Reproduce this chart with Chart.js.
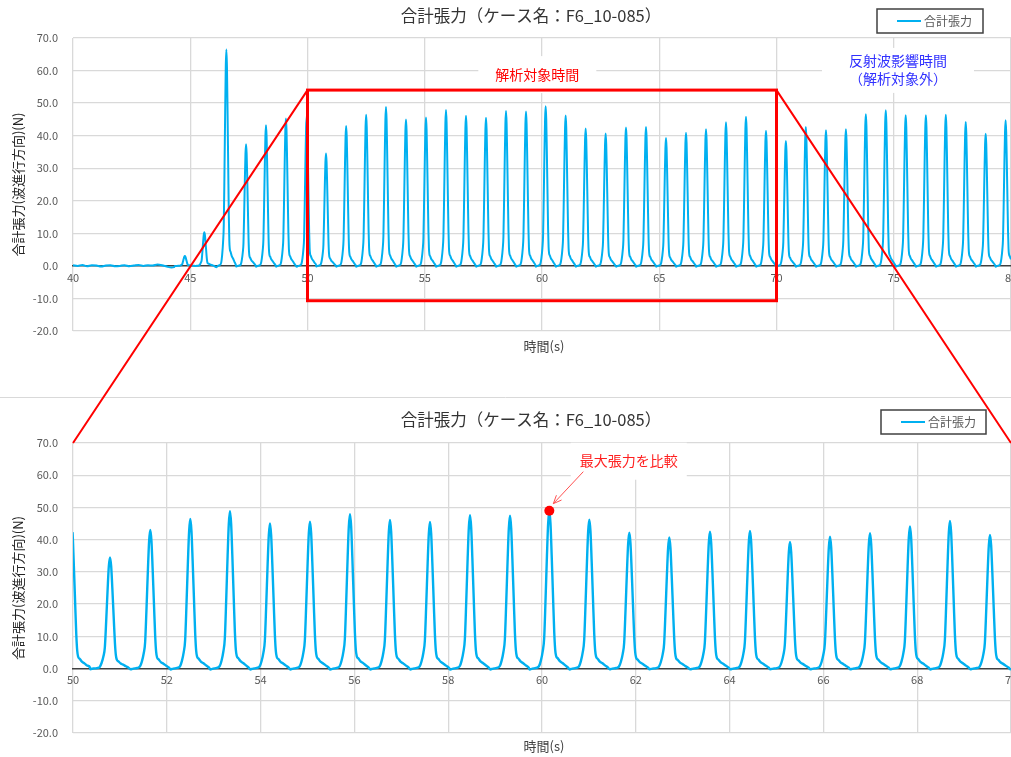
<!DOCTYPE html>
<html><head><meta charset="utf-8">
<script src="https://cdn.jsdelivr.net/npm/chart.js@4.4.1/dist/chart.umd.min.js"></script>
<style>
html,body{margin:0;padding:0;background:#fff;overflow:hidden;}
#wrap{position:relative;width:1011px;height:757px;overflow:hidden;background:#fff;}
#cTop{position:absolute;left:0;top:0;}
#cBot{position:absolute;left:0;top:398px;}
#ov{position:absolute;left:0;top:0;pointer-events:none;}
</style></head><body>
<div id="wrap">
<canvas id="cTop" width="1030" height="396"></canvas>
<canvas id="cBot" width="1030" height="359"></canvas>
<canvas id="ov" width="1011" height="757"></canvas>
</div>
<script>
// ---------------- data ----------------
const seriesName = '合計張力';
const chartTitle = '合計張力（ケース名：F6_10-085）';
const xTitle = '時間(s)';
const yTitle = '合計張力(波進行方向)(N)';

// quiet baseline before the waves arrive
const preTimes  = [40.0,40.2,40.4,40.6,40.8,41.0,41.2,41.4,41.6,41.8,42.0,42.2,42.4,42.6,42.8,43.0,43.2,43.4,43.6,43.8,44.0,44.2,44.3];
const preValues = [0.2,0.0,0.3,-0.1,0.2,0.1,-0.2,0.1,0.2,-0.1,0.0,0.2,-0.1,0.1,0.3,0.0,0.2,0.1,0.4,0.2,-0.2,-0.5,-0.4];

// each tension pulse: time of the peak (s) and peak tension (N)
const peakTimes  = [44.77,45.60,46.54,47.38,48.23,49.08,49.965,50.789,51.648,52.501,53.347,54.2,55.053,55.906,56.759,57.612,58.465,59.318,60.156,61.009,61.862,62.714,63.582,64.435,65.288,66.141,66.994,67.846,68.699,69.552,70.40,71.25,72.11,72.96,73.81,74.66,75.51,76.37,77.22,78.07,78.92,79.77];
const peakValues = [3.0,10.3,66.5,37.4,43.2,45.3,46.0,34.5,43.0,46.4,48.8,45.0,45.6,47.9,46.1,45.5,47.6,47.4,49.0,46.2,42.2,40.7,42.5,42.7,39.3,40.9,42.0,44.1,45.8,41.5,38.4,42.7,41.7,42.0,46.6,47.8,46.3,46.3,46.4,44.2,40.6,44.7];

// shape of one pulse (time offset from peak, share of peak)
const pulseOffsets = [-0.42,-0.36,-0.28,-0.22,-0.18,-0.14,-0.11,-0.08,-0.05,-0.025,0,0.025,0.05,0.08,0.105,0.125,0.145,0.18,0.23,0.28,0.34,0.40];
const pulseShape   = [-0.006,0.0,0.004,0.015,0.05,0.11,0.19,0.44,0.72,0.92,1.0,0.92,0.72,0.45,0.23,0.12,0.08,0.065,0.045,0.035,0.02,0.006];

const topXTicks = [40,45,50,55,60,65,70,75,80];
const botXTicks = [50,52,54,56,58,60,62,64,66,68,70];
const yTicks = [-20,-10,0,10,20,30,40,50,60,70];

// annotations
const analysisRange = [50,70];
const analysisBand = [-10.7,54];
const analysisLabel = '解析対象時間';
const analysisLabelPos = [59.8,58.6];
const reflectLabel = ['反射波影響時間','（解析対象外）'];
const reflectLabelPos = [75.18,60.2];
const maxLabel = '最大張力を比較';
const maxLabelPos = [61.85,64.5];

// ---------------- build series ----------------
const points = [];
preTimes.forEach((t,i)=>points.push({x:t,y:preValues[i]}));
peakTimes.forEach((t,i)=>pulseOffsets.forEach((d,k)=>points.push({x:+(t+d).toFixed(3),y:+(peakValues[i]*pulseShape[k]).toFixed(2)})));
points.sort((a,b)=>a.x-b.x);

const BLUE = '#00b0f0';
const FONT = '"Noto Sans CJK JP", "Noto Sans", sans-serif';
Chart.defaults.font.family = FONT;

const decor = {
  id:'decor',
  afterDraw(chart, args, o){
    const ctx = chart.ctx;
    const ca = chart.chartArea;
    ctx.save();
    ctx.fillStyle = '#333';
    ctx.font = '16.5px ' + FONT;
    ctx.textAlign = 'center'; ctx.textBaseline = 'middle';
    ctx.fillText(chartTitle, o.titleX, o.titleY);
    ctx.font = '13px ' + FONT;
    ctx.fillStyle = '#404040';
    ctx.fillText(xTitle, o.xTitleX, o.xTitleY);
    ctx.save();
    ctx.translate(o.yTitleX, (ca.top+ca.bottom)/2);
    ctx.rotate(-Math.PI/2);
    ctx.fillStyle = '#222';
    ctx.font = '13px ' + FONT;
    ctx.fillText(yTitle, 0, 0);
    ctx.restore();
    const [lx,ly,lw,lh] = o.legend;
    ctx.fillStyle = '#fff';
    ctx.fillRect(lx,ly,lw,lh);
    ctx.strokeStyle = '#404040'; ctx.lineWidth = 1.5;
    ctx.strokeRect(lx,ly,lw,lh);
    ctx.strokeStyle = BLUE; ctx.lineWidth = 2;
    ctx.beginPath(); ctx.moveTo(lx+20, ly+lh/2); ctx.lineTo(lx+44, ly+lh/2); ctx.stroke();
    ctx.fillStyle = '#595959'; ctx.font = '12px ' + FONT;
    ctx.textAlign = 'left';
    ctx.fillText(seriesName, lx+47, ly+lh/2);
    ctx.restore();
  }
};

function makeChart(id, xTicks, xmin, xmax, pad, lw, decorOpts){
  return new Chart(document.getElementById(id), {
    type:'line',
    data:{datasets:[{label:seriesName,data:points,borderColor:BLUE,borderWidth:lw,pointRadius:0,cubicInterpolationMode:'monotone',fill:false}]},
    options:{
      responsive:false, animation:false, devicePixelRatio:1,
      layout:{padding:pad},
      plugins:{legend:{display:false},title:{display:false},tooltip:{enabled:false},decor:decorOpts},
      scales:{
        x:{type:'linear',min:xmin,max:xmax,position:{y:0},
           afterBuildTicks:s=>{s.ticks = xTicks.map(v=>({value:v}));},
           grid:{color:'#d9d9d9',lineWidth:1.3,drawTicks:false},
           border:{color:'#404040',width:1.6},
           ticks:{color:'#595959',font:{size:11},padding:5,maxRotation:0,autoSkip:false,callback:v=>String(v)}},
        y:{type:'linear',min:-20,max:70,
           afterBuildTicks:s=>{s.ticks = yTicks.map(v=>({value:v}));},
           afterFit:s=>{s.width = 73;},
           grid:{color:c=>(c.tick && c.tick.value===0)?'rgba(0,0,0,0)':'#d9d9d9',lineWidth:1.3,drawTicks:false},
           border:{display:false},
           ticks:{color:'#595959',font:{size:11},padding:15,callback:v=>Number(v).toFixed(1)}}
      }
    },
    plugins:[decor]
  });
}

const chartTop = makeChart('cTop', topXTicks, 40, 80, {left:0,right:19,top:38,bottom:65}, 2,
  {titleX:531,titleY:16,xTitleX:544,xTitleY:346,yTitleX:18,legend:[877,9,106,24]});
const chartBot = makeChart('cBot', botXTicks, analysisRange[0], analysisRange[1], {left:0,right:19,top:45,bottom:24}, 2.4,
  {titleX:531,titleY:22,xTitleX:544,xTitleY:348.5,yTitleX:18,legend:[881,12,105,24]});

// ---------------- overlay annotations ----------------
(function(){
  const ctx = document.getElementById('ov').getContext('2d');
  const offB = 398;
  const tx = chartTop.scales.x, ty = chartTop.scales.y;
  const bx = chartBot.scales.x, by = chartBot.scales.y;

  ctx.strokeStyle = '#d9d9d9'; ctx.lineWidth = 1;
  ctx.beginPath(); ctx.moveTo(0,397.5); ctx.lineTo(1011,397.5); ctx.stroke();

  ctx.textAlign='center'; ctx.textBaseline='middle';
  ctx.font = '14px ' + FONT;
  let cx = tx.getPixelForValue(analysisLabelPos[0]), cy = ty.getPixelForValue(analysisLabelPos[1]);
  let w = ctx.measureText(analysisLabel).width;
  ctx.fillStyle='#fff'; ctx.fillRect(cx-w/2-17, cy-19, w+34, 37);
  ctx.fillStyle='#ff0000'; ctx.fillText(analysisLabel, cx, cy);
  cx = tx.getPixelForValue(reflectLabelPos[0]); cy = ty.getPixelForValue(reflectLabelPos[1]);
  w = Math.max(...reflectLabel.map(s=>ctx.measureText(s).width));
  ctx.fillStyle='#fff'; ctx.fillRect(cx-w/2-27, cy-22, w+54, 45);
  ctx.fillStyle='#3030ff';
  ctx.fillText(reflectLabel[0], cx, cy-9);
  ctx.fillText(reflectLabel[1], cx, cy+9);
  cx = bx.getPixelForValue(maxLabelPos[0]); cy = by.getPixelForValue(maxLabelPos[1]) + offB;
  w = ctx.measureText(maxLabel).width;
  ctx.fillStyle='#fff'; ctx.fillRect(cx-w/2-9, cy-18, w+18, 37);
  ctx.fillStyle='#ff2020'; ctx.fillText(maxLabel, cx, cy);

  const rx1 = tx.getPixelForValue(analysisRange[0]), rx2 = tx.getPixelForValue(analysisRange[1]);
  const ry1 = ty.getPixelForValue(analysisBand[1]), ry2 = ty.getPixelForValue(analysisBand[0]);
  ctx.strokeStyle='#ff0000'; ctx.lineWidth=3;
  ctx.strokeRect(rx1, ry1, rx2-rx1, ry2-ry1);
  ctx.lineWidth=2;
  ctx.beginPath();
  ctx.moveTo(rx1, ry1); ctx.lineTo(bx.getPixelForValue(analysisRange[0]), by.getPixelForValue(70)+offB);
  ctx.moveTo(rx2, ry1); ctx.lineTo(bx.getPixelForValue(analysisRange[1]), by.getPixelForValue(70)+offB);
  ctx.stroke();

  let mi = -1;
  peakTimes.forEach((t,i)=>{ if(t>=analysisRange[0] && t<=analysisRange[1] && (mi<0 || peakValues[i]>peakValues[mi])) mi=i; });
  const dx = bx.getPixelForValue(peakTimes[mi]), dy = by.getPixelForValue(peakValues[mi]) + offB;
  const hx = dx+4, hy = dy-7, tx0 = dx+34, ty0 = dy-39;
  ctx.strokeStyle='#ff5050'; ctx.lineWidth=1;
  ctx.beginPath(); ctx.moveTo(tx0,ty0); ctx.lineTo(hx,hy); ctx.stroke();
  const ang = Math.atan2(hy-ty0, hx-tx0);
  ctx.beginPath();
  ctx.moveTo(hx - 9*Math.cos(ang-0.4), hy - 9*Math.sin(ang-0.4));
  ctx.lineTo(hx,hy);
  ctx.lineTo(hx - 9*Math.cos(ang+0.4), hy - 9*Math.sin(ang+0.4));
  ctx.stroke();
  ctx.fillStyle='#ff0000';
  ctx.beginPath(); ctx.arc(dx, dy, 5, 0, Math.PI*2); ctx.fill();
})();
</script>
</body></html>
